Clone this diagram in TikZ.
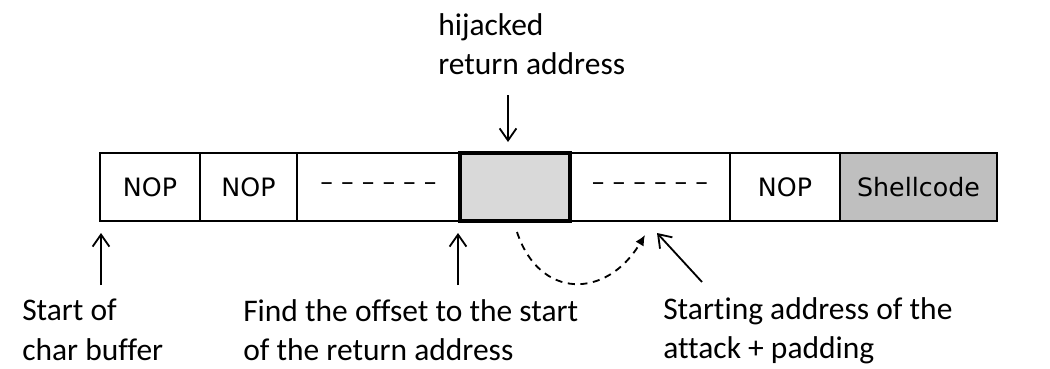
\documentclass[tikz,border=0pt]{standalone}
\usepackage{fontspec}
\setmainfont{Carlito}[Ligatures=NoCommon]
\newfontfamily\cellfont{DejaVu Sans}
\usetikzlibrary{arrows.meta}
\definecolor{retgray}{HTML}{D9D9D9}
\definecolor{shellgray}{HTML}{BFBFBF}
\tikzset{
  cell/.style={draw, line width=1.2pt, minimum height=1.7cm, inner sep=0pt,
    font=\cellfont\fontsize{18}{22}\selectfont},
  note/.style={anchor=north west, align=left, inner sep=0pt,
    font=\fontsize{22.4}{28}\selectfont},
  pointer/.style={line width=1.3pt, -{Straight Barb[length=3mm,width=4.2mm]}},
  hop/.style={line width=1.3pt, dash pattern=on 5pt off 4pt,
    -{Latex[length=2.6mm,width=2.4mm]}}
}
\begin{document}
\begin{tikzpicture}
\useasboundingbox (0,0) rectangle (26.25,9.2);

\node[cell, minimum width=2.5cm] (nopA) at (3.75,4.525) {NOP};
\node[cell, minimum width=2.425cm] (nopB) at (6.2125,4.525) {NOP};
\node[cell, minimum width=4.075cm] (fillA) at (9.4625,4.525) {– – – – – –};
\node[cell, minimum width=4cm] (fillB) at (16.25,4.525) {– – – – – –};
\node[cell, minimum width=2.75cm] (nopC) at (19.625,4.525) {NOP};
\node[cell, minimum width=3.925cm, fill=shellgray, line width=1.5pt] (shell) at (22.9625,4.525) {Shellcode};
\node[cell, minimum width=2.75cm, fill=retgray, line width=2.2pt] (ret) at (12.875,4.525) {};

\node[note] (hij) at (10.95,8.875) {hijacked\\return address};
\node[note] (start) at (0.55,1.725) {Start of\\char buffer};
\node[note] (offset) at (6.075,1.725) {Find the offset to the start\\of the return address};
\node[note] (attack) at (16.575,1.775) {Starting address of the\\attack + padding};

\coordinate (hijtail) at (12.7,6.825);
\coordinate (hijtip) at (12.7,5.65);
\coordinate (starttail) at (2.525,2.075);
\coordinate (starttip) at (2.525,3.375);
\coordinate (offtail) at (11.45,2.075);
\coordinate (offtip) at (11.45,3.375);
\coordinate (hopfrom) at (12.925,3.4);
\coordinate (hopto) at (16.125,3.325);
\coordinate (attacktail) at (17.55,2.15);
\coordinate (attacktip) at (16.425,3.375);

\draw[pointer] (hijtail) -- (hijtip);
\draw[pointer] (starttail) -- (starttip);
\draw[pointer] (offtail) -- (offtip);
\draw[pointer] (attacktail) -- (attacktip);
\draw[hop] (hopfrom) .. controls (13.48,1.71) and (15.16,1.71) .. (hopto);
\end{tikzpicture}
\end{document}
